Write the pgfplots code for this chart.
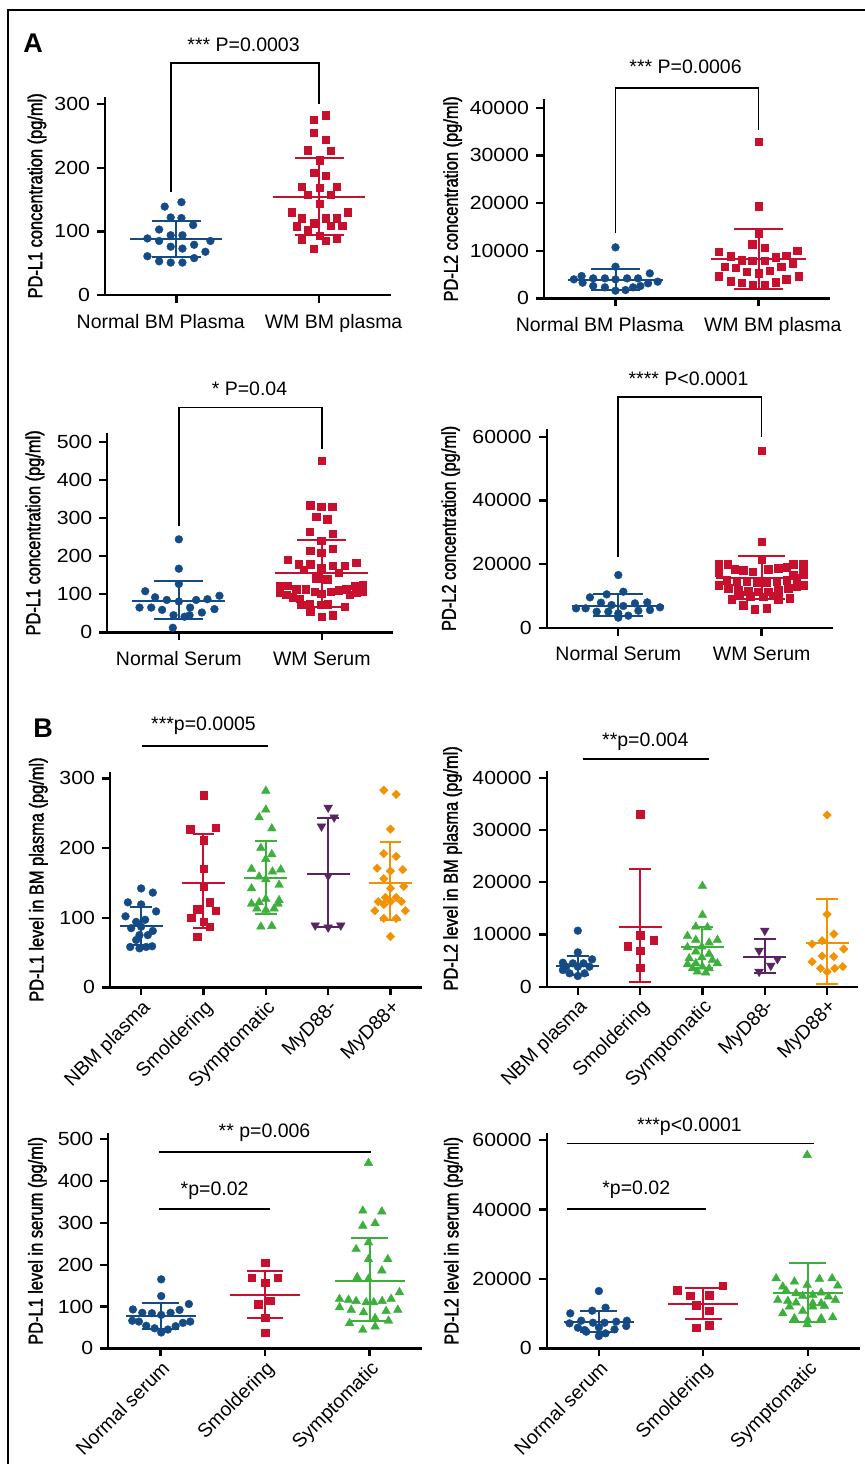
\documentclass[border=0pt]{standalone}
\usepackage{fontspec}
\setmainfont{Liberation Sans}
\newfontfamily\condfont[FakeStretch=0.82,FakeBold=1.6]{Liberation Sans}
\newfontfamily\widefont[FakeStretch=1.12]{Liberation Sans}
\usepackage{pgfplots}
\pgfplotsset{compat=1.18}
\definecolor{cblue}{RGB}{20,75,135}
\definecolor{cred}{RGB}{200,16,46}
\definecolor{cgreen}{RGB}{60,175,60}
\definecolor{cpurple}{RGB}{92,35,100}
\definecolor{corange}{RGB}{243,146,0}
\pgfplotsset{
  dot/.style={
    scale only axis,
    axis lines=left,
    axis line style={-, line width=1.15pt},
    x axis line style={-}, y axis line style={-},
    major tick style={line width=1.15pt, black},
    tick align=outside,
    major tick length=4pt,
    ymin=0, clip=false,
    /pgf/number format/assume math mode=true,
    scaled y ticks=false,
    yticklabel style={font=\widefont\fontsize{9.5}{10}\selectfont, /pgf/number format/fixed, /pgf/number format/1000 sep={}},
    xticklabel style={font=\fontsize{9.75}{11}\selectfont},
    ylabel style={font=\condfont\fontsize{10}{11}\selectfont, anchor=center},
  },
  twocat/.style={xtick={0,1}, xticklabels={,,}, extra x ticks={-0.11,1.10},
    extra x tick labels={#1},
    extra x tick style={major tick style={draw=none}, xticklabel style={yshift=-2pt}}},
  twocatc/.style={xtick={0,1}, xticklabels={#1}, xticklabel style={yshift=-2pt}},
  circ/.style={only marks, mark=*, mark size=1.95pt, mark options={line width=0.2pt}},
  sq/.style={only marks, mark=square*, mark size=1.85pt, mark options={line width=0.2pt}},
  tri/.style={only marks, mark=triangle*, mark size=2.5pt, mark options={line width=0.2pt}},
  dtri/.style={only marks, mark=triangle*, mark size=2.5pt, mark options={line width=0.2pt, rotate=180}},
  dia/.style={only marks, mark=square*, mark size=1.5pt, mark options={line width=0.2pt, rotate=45}},
  sig/.style={black, line width=0.85pt, mark=none},
}
\newcommand{\msd}[7]{%
  \addplot[#5, line width=1pt, mark=-, mark size=#7, mark options={solid, line width=1pt}] coordinates {(#1,#3) (#1,#4)};
  \addplot[#5, only marks, mark=-, mark size=#6, mark options={line width=1pt}] coordinates {(#1,#2)};
}
\newcommand{\pfont}{\fontsize{9.75}{11}\selectfont}
\begin{document}
\begin{tikzpicture}
\path[use as bounding box] (0,0) rectangle (432.5pt,-732pt);
\draw[line width=1pt] (4pt,-745pt) -- (4pt,-5pt) -- (445pt,-5pt);
\node[font=\bfseries\fontsize{13.5}{14}\selectfont] at (16.5pt,-21.5pt) {A};
\node[font=\bfseries\fontsize{13.5}{14}\selectfont] at (21.5pt,-364pt) {B};

% ---------- A1 ----------
\begin{axis}[dot, at={(52.5pt,-147.5pt)}, anchor=south west, width=142.85pt, height=99.2pt,
  xmin=-0.5, xmax=1.5, ymax=312, ytick={0,100,200,300},
  twocat={Normal BM Plasma, WM BM plasma},
  ylabel={PD-L1 concentration (pg/ml)}, ylabel style={at={(axis description cs:-0.238,0.5)}}]
\addplot[circ, cblue] coordinates {(-0.082,139) (0.035,146) (-0.040,122) (0.035,121) (0.117,110) (-0.121,103) (-0.040,94) (0.042,94) (-0.203,89) (-0.121,85) (0.238,85) (-0.040,76) (0.042,73) (0.124,79) (0.203,68) (-0.203,61) (-0.121,53) (-0.040,51) (0.042,51) (0.124,58)};
\addplot[sq, cred] coordinates {(0.963,276) (1.047,283) (0.963,255) (1.047,244) (0.918,228) (1.082,227) (1.005,212) (0.963,192) (1.047,188) (0.876,170) (1.005,169) (1.124,170) (0.918,158) (1.082,158) (1.005,144) (0.806,130) (1.199,130) (0.876,121) (0.963,113) (1.047,121) (1.124,121) (0.841,108) (0.918,102) (1.082,109) (1.161,109) (1.005,93) (0.876,88) (1.047,85) (1.124,89) (0.963,73)};
\msd{0}{87.6}{60.3}{117}{cblue}{23pt}{12.25pt}
\msd{1}{154.7}{94}{216}{cred}{23pt}{12.25pt}
\addplot[sig] coordinates {(-0.04,162.5) (-0.04,365.4) (1,365.4) (1,300.5)};
\node[font=\pfont] at (axis cs:0.47,393) {*** P=0.0003};
\end{axis}

% ---------- A2 ----------
\begin{axis}[dot, at={(272pt,-149.17pt)}, anchor=south west, width=143pt, height=99.5pt,
  xmin=-0.5, xmax=1.5, ymax=41750, ytick={0,10000,20000,30000,40000},
  twocat={Normal BM Plasma, WM BM plasma},
  ylabel={PD-L2 concentration (pg/ml)}, ylabel style={at={(axis description cs:-0.3196,0.5)}}]
\addplot[circ, cblue] coordinates {(0,10699) (0,6643) (-0.291,3986) (-0.237,4685) (-0.230,3287) (-0.156,4196) (-0.074,4196) (0,3986) (0.081,4196) (0.158,4196) (0.240,5245) (0.295,3497) (-0.156,2587) (-0.074,2308) (0,1608) (0.070,1748) (0.123,2308) (0.174,2587) (0.228,3147)};
\addplot[sq, cred] coordinates {(1,32867) (1,19370) (1,13636) (0.956,11399) (1.042,10629) (0.723,9790) (0.805,8881) (1.270,10000) (0.884,8042) (0.956,7902) (1.042,7902) (1.119,8601) (1.193,8951) (1.240,7343) (0.763,6643) (0.840,6434) (0.919,5594) (1,5245) (1.077,5804) (1.158,6643) (0.721,4685) (1.279,4685) (0.805,3636) (0.884,3287) (0.960,2797) (1.042,2797) (1.119,3427) (1.193,3986)};
\msd{0}{3846}{1748}{6084}{cblue}{23.75pt}{12.3pt}
\msd{1}{8182}{2028}{14476}{cred}{23.75pt}{12.3pt}
\addplot[sig] coordinates {(0,13636) (0,44071) (1,44071) (1,35314)};
\node[font=\pfont] at (axis cs:0.49,48605) {*** P=0.0006};
\end{axis}

% ---------- A3 ----------
\begin{axis}[dot, at={(53.67pt,-316.17pt)}, anchor=south west, width=143pt, height=99.5pt,
  xmin=-0.5, xmax=1.5, ymax=522, ytick={0,100,200,300,400,500},
  twocatc={Normal Serum, WM Serum},
  ylabel={PD-L1 concentration (pg/ml)}, ylabel style={at={(axis description cs:-0.253,0.5)}}]
\addplot[circ, cblue] coordinates {(0,244) (0,167) (0,127) (-0.235,108) (-0.166,92) (-0.084,85) (0,81) (0.121,85) (0.200,87) (0.284,96) (-0.275,65) (-0.193,65) (-0.117,59) (0.079,65) (0.161,52) (0.249,61) (-0.037,45) (0.040,41) (0.075,45) (-0.042,12)};
\addplot[sq, cred] coordinates {(1,450) (0.918,334) (0.995,330) (1.072,330) (0.960,303) (1.037,297) (0.914,264) (1.077,258) (0.995,240) (0.918,214) (0.995,209) (1.077,219) (0.762,190) (0.837,179) (0.918,179) (1.077,175) (1.159,175) (1.240,183) (0.872,165) (0.995,170) (1.119,157) (0.960,142) (1.037,139) (0.704,122) (0.762,122) (1.228,122) (1.287,124) (0.821,113) (0.886,113) (0.949,107) (0.995,102) (1.061,107) (1.119,111) (1.170,113) (0.704,104) (0.751,98) (0.797,92) (0.844,89) (1.193,98) (1.240,104) (1.287,107) (0.855,72) (0.914,74) (0.995,72) (1.042,74) (1.159,67) (0.918,54) (1,41) (1.077,45)};
\msd{0}{83}{34}{135}{cblue}{23.3pt}{12.3pt}
\msd{1}{155}{66}{242}{cred}{23.3pt}{12.3pt}
\addplot[sig] coordinates {(0,280) (0,590) (1,590) (1,480)};
\node[font=\pfont] at (axis cs:0.494,638) {* P=0.04};
\end{axis}

% ---------- A4 ----------
\begin{axis}[dot, at={(273.33pt,-313.83pt)}, anchor=south west, width=143.3pt, height=99.3pt,
  xmin=-0.5, xmax=1.5, ymax=62420, ytick={0,20000,40000,60000},
  twocatc={Normal Serum, WM Serum},
  ylabel={PD-L2 concentration (pg/ml)}, ylabel style={at={(axis description cs:-0.335,0.5)}}]
\addplot[circ, cblue] coordinates {(0,16543) (-0.198,9528) (-0.081,10470) (0.035,11308) (-0.295,6073) (-0.228,6073) (-0.121,7853) (-0.047,7120) (0.035,6806) (0.116,7643) (0.202,7957) (0.291,6387) (-0.151,5026) (-0.070,5026) (0,4502) (0.140,5340) (0.221,5549) (0,3141) (0.070,3769)};
\addplot[sq, cred] coordinates {(1,55596) (1,27013) (1,21464) (0.700,20000) (0.763,20000) (1.221,20000) (1.291,20000) (0.814,18323) (0.872,18114) (0.937,17590) (1.047,18323) (1.116,18637) (1.174,18951) (0.700,17276) (1.291,17276) (1.221,16543) (0.756,14972) (0.826,14449) (0.895,14449) (0.965,14135) (1.035,14135) (1.105,14449) (1.174,14972) (1.244,15496) (0.700,13402) (1.291,13402) (0.767,12355) (0.837,11831) (0.907,11517) (0.977,11308) (1.047,11308) (1.116,11831) (1.186,12355) (1.244,12878) (0.849,10261) (0.919,9947) (1.012,9737) (1.081,10051) (0.791,8900) (1.116,8900) (1.198,9214) (0.872,7120) (0.953,5863) (1.035,6073)};
\msd{0}{6910}{3665}{10470}{cblue}{23pt}{12.5pt}
\msd{1}{15700}{8900}{22510}{cred}{23pt}{11.7pt}
\addplot[sig] coordinates {(0,22300) (0,72565) (1,72565) (1,59785)};
\node[font=\pfont] at (axis cs:0.49,78345) {**** P<0.0001};
\end{axis}

% ---------- B1 ----------
\begin{axis}[dot, at={(55pt,-493.67pt)}, anchor=south west, width=155.83pt, height=107.8pt,
  xmin=-0.5, xmax=4.5, ymax=309.5, ytick={0,100,200,300}, xtick={0,1,2,3,4},
  xticklabels={NBM plasma, Smoldering, Symptomatic, MyD88-, MyD88+},
  xticklabel style={rotate=45, anchor=north east, inner sep=1pt},
  ylabel={PD-L1 level in BM plasma (pg/ml)}, ylabel style={at={(axis description cs:-0.230,0.5)}}]
\addplot[circ, cblue] coordinates {(0,142) (0.187,136) (-0.213,122) (0,119) (-0.251,102) (0.240,109) (-0.080,94) (0.064,97) (-0.160,85) (0,87) (0.187,81) (-0.027,75) (0.107,75) (-0.176,58) (-0.027,56) (0.080,58) (0.176,59) (-0.080,68)};
\addplot[sq, cred] coordinates {(1,276) (0.787,227) (1.192,229) (1,211) (1,170) (1,145) (1.096,122) (1.192,110) (0.899,112) (0.803,100) (1,94) (1.096,87) (0.899,73)};
\addplot[tri, cgreen] coordinates {(2,282) (2,255) (1.893,244) (2.096,228) (1.920,200) (2.096,191) (2,184) (1.771,170) (2.240,169) (2.107,166) (1.893,159) (2,155) (1.771,142) (2.213,147) (1.893,122) (2,127) (2.213,125) (2.197,120) (1.771,120) (1.856,113) (2,111) (2.133,113) (1.920,87) (2.096,88)};
\addplot[dtri, cpurple] coordinates {(3,258) (2.893,231) (3.096,244) (3,160) (2.792,89) (3,86) (3.203,89)};
\addplot[dia, corange] coordinates {(3.893,283) (4.091,277) (4,227) (3.893,192) (4.091,188) (3.787,171) (4,167) (4.197,169) (3.893,156) (4.213,145) (4,142) (3.803,123) (3.920,129) (4.091,129) (4,123) (4.176,123) (3.749,110) (3.893,119) (4.240,110) (3.893,99) (4.091,99) (4,73)};
\msd{0}{88.5}{61}{116}{cblue}{10.7pt}{5.4pt}
\msd{1}{150}{85}{220}{cred}{10.7pt}{5.4pt}
\msd{2}{156.5}{105}{210.5}{cgreen}{10.7pt}{5.4pt}
\msd{3}{162.7}{87}{242.6}{cpurple}{10.7pt}{5.4pt}
\msd{4}{150}{96.7}{209}{corange}{10.7pt}{5.4pt}
\addplot[sig] coordinates {(0.02,346.8) (2.03,346.8)};
\node[font=\pfont] at (axis cs:1.0,375) {***p=0.0005};
\end{axis}

% ---------- B2 ----------
\begin{axis}[dot, at={(273.33pt,-493.33pt)}, anchor=south west, width=155.8pt, height=108pt,
  xmin=-0.5, xmax=4.5, ymax=41340, ytick={0,10000,20000,30000,40000}, xtick={0,1,2,3,4},
  xticklabels={NBM plasma, Smoldering, Symptomatic, MyD88-, MyD88+},
  xticklabel style={rotate=45, anchor=north east, inner sep=1pt},
  ylabel={PD-L2 level in BM plasma (pg/ml)}, ylabel style={at={(axis description cs:-0.302,0.548)}}]
\addplot[circ, cblue] coordinates {(0,10718) (0,6571) (-0.240,4594) (-0.080,4466) (0.091,4466) (0.229,5232) (-0.187,3828) (0,3828) (0.187,3828) (-0.133,2552) (0,2042) (0.107,2552) (-0.240,3190)};
\addplot[sq, cred] coordinates {(1,33048) (0.803,7784) (1,9889) (1.213,8932) (1,6890) (1,3637)};
\addplot[tri, cgreen] coordinates {(2,19268) (2,13717) (1.893,11484) (2.080,11356) (1.760,9698) (2.240,8932) (1.893,8932) (2.107,8422) (1.989,7656) (1.760,7528) (1.893,6699) (2.107,6252) (1.989,5614) (1.787,5423) (2.160,5104) (2.240,4466) (1.760,4275) (1.893,4466) (2,3828) (1.840,3509) (2.107,3509) (1.920,2871) (2.053,2680)};
\addplot[dtri, cpurple] coordinates {(3,10718) (2.909,6890) (3.203,5295) (3.096,4019) (2.909,2871)};
\addplot[dia, corange] coordinates {(4,32857) (4,13845) (4.107,10080) (3.760,8166) (3.920,8804) (4.267,7209) (3.920,5869) (4.107,5742) (3.760,4785) (3.893,3509) (4.123,3509) (4.251,3828) (4,2871)};
\msd{0}{4019}{2233}{5933}{cblue}{10.7pt}{5.4pt}
\msd{1}{11356}{957}{22458}{cred}{10.7pt}{5.4pt}
\msd{2}{7528}{3509}{11484}{cgreen}{10.7pt}{5.4pt}
\msd{3}{5742}{2552}{9060}{cpurple}{10.7pt}{5.4pt}
\msd{4}{8422}{510}{16779}{corange}{10.7pt}{5.4pt}
\addplot[sig] coordinates {(0.08,43522) (2.1,43522)};
\node[font=\pfont] at (axis cs:1.083,46890) {**p=0.004};
\end{axis}

% ---------- B3 ----------
\begin{axis}[dot, at={(54.17pt,-674.17pt)}, anchor=south west, width=156.7pt, height=107.5pt,
  xmin=-0.5, xmax=2.5, ymax=514, ytick={0,100,200,300,400,500}, xtick={0,1,2},
  xticklabels={Normal serum, Smoldering, Symptomatic},
  xticklabel style={rotate=45, anchor=north east, inner sep=1pt},
  ylabel={PD-L1 level in serum (pg/ml)}, ylabel style={at={(axis description cs:-0.2265,0.5)}}]
\addplot[circ, cblue] coordinates {(0.006,165) (0.006,125) (-0.265,93) (-0.175,85) (-0.083,84) (0.006,80) (0.096,85) (0.182,92) (0.271,106) (-0.271,66) (-0.207,64) (-0.137,54) (-0.057,48) (0.006,38) (0.070,45) (0.144,53) (0.214,61) (0.284,64)};
\addplot[sq, cred] coordinates {(1,205) (0.872,169) (1.121,169) (1,157) (1.048,114) (0.936,106) (1,73) (1,37)};
\addplot[tri, cgreen] coordinates {(1.990,443) (1.936,329) (2.118,327) (1.936,293) (2.054,299) (1.990,253) (1.872,237) (1.990,213) (2.175,213) (2.118,186) (1.882,170) (1.990,166) (2.287,134) (1.713,118) (1.799,116) (1.872,113) (1.968,110) (2.041,110) (2.121,113) (2.207,118) (1.713,98) (1.825,92) (1.943,86) (2.159,89) (2.271,92) (2.054,72) (1.809,60) (2.182,66) (1.936,44) (2.054,52)};
\msd{0}{77}{45.5}{108}{cblue}{17.5pt}{9.2pt}
\msd{1}{128}{73}{186}{cred}{17.5pt}{9.2pt}
\msd{2}{161}{66}{263}{cgreen}{17.5pt}{9.2pt}
\addplot[sig] coordinates {(-0.015,469) (2.01,469)};
\node[font=\pfont] at (axis cs:0.995,514.4) {** p=0.006};
\addplot[sig] coordinates {(-0.015,333.3) (1.05,333.3)};
\node[font=\pfont] at (axis cs:0.517,377) {*p=0.02};
\end{axis}

% ---------- B4 ----------
\begin{axis}[dot, at={(273.33pt,-674.17pt)}, anchor=south west, width=156.67pt, height=107.5pt,
  xmin=-0.5, xmax=2.5, ymax=61930, ytick={0,20000,40000,60000}, xtick={0,1,2},
  xticklabels={Normal serum, Smoldering, Symptomatic},
  xticklabel style={rotate=45, anchor=north east, inner sep=1pt},
  ylabel={PD-L2 level in serum (pg/ml)}, ylabel style={at={(axis description cs:-0.298,0.5)}}]
\addplot[circ, cblue] coordinates {(0,16512) (-0.274,10080) (-0.064,10848) (0.064,11712) (-0.281,7200) (-0.169,7968) (-0.057,7392) (0.054,7392) (0.166,7680) (0.268,7968) (-0.201,5952) (-0.137,5280) (0,6048) (0.150,5472) (0.262,6432) (0,3552) (0.064,4320) (-0.121,4800)};
\addplot[sq, cred] coordinates {(1.185,18048) (0.748,16800) (0.876,15168) (1.057,15360) (0.930,12480) (1.057,10848) (0.930,5952) (1.057,6720)};
\addplot[tri, cgreen] coordinates {(1.994,55680) (1.697,20160) (1.872,19200) (1.994,18240) (2.112,19968) (2.233,20160) (2.287,18048) (1.793,16608) (1.888,15840) (1.952,15072) (2.048,15360) (2.128,16032) (2.198,14880) (1.713,13920) (1.809,13632) (1.888,13152) (2.048,12960) (2.128,12960) (2.265,13920) (1.825,12000) (1.952,10752) (2.048,12000) (2.159,12192) (1.761,10080) (1.872,8640) (2,8160) (2.128,8640) (2.239,8928) (1.994,6912) (1.761,17760)};
\msd{0}{7680}{4608}{10752}{cblue}{17.5pt}{9.2pt}
\msd{1}{12768}{8352}{17472}{cred}{17.5pt}{9.2pt}
\msd{2}{15840}{7680}{24480}{cgreen}{17.5pt}{9.2pt}
\addplot[sig] coordinates {(-0.31,59050) (2.06,59050)};
\node[font=\pfont] at (axis cs:0.868,63830) {***p<0.0001};
\addplot[sig] coordinates {(-0.31,40125) (1.03,40125)};
\node[font=\pfont] at (axis cs:0.358,45800) {*p=0.02};
\end{axis}
\end{tikzpicture}
\end{document}
